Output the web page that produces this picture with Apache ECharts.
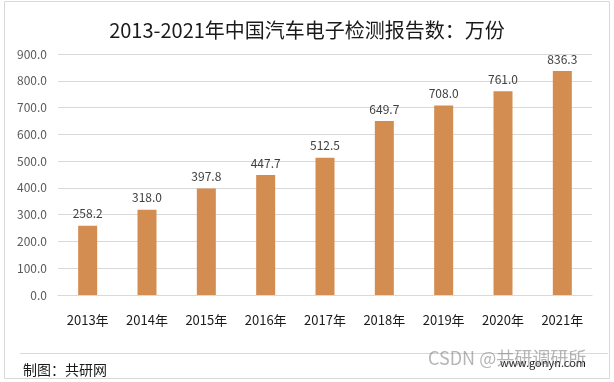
<!DOCTYPE html>
<html>
<head>
<meta charset="utf-8">
<script src="https://cdn.jsdelivr.net/npm/echarts@6/dist/echarts.min.js"></script>
<style>html,body{margin:0;padding:0;background:#fff}#c{width:614px;height:382px}</style>
</head>
<body>
<div id="c"></div>
<script>
var titleText = '2013-2021年中国汽车电子检测报告数：万份';
var categories = ['2013年','2014年','2015年','2016年','2017年','2018年','2019年','2020年','2021年'];
var values = [258.2, 318.0, 397.8, 447.7, 512.5, 649.7, 708.0, 761.0, 836.3];
var yTicks = {min: 0, max: 900, interval: 100};
var sourceText = '制图：共研网';
var watermarkText = 'CSDN @共研调研所';
var siteText = 'www.gonyn.com';

var FONT = '"Noto Sans CJK SC", "Noto Sans", sans-serif';
var chart = echarts.init(document.getElementById('c'), null, {renderer: 'canvas'});
chart.setOption({
  animation: false,
  backgroundColor: '#ffffff',
  title: {
    text: titleText,
    left: 'center',
    top: 15,
    textStyle: {fontFamily: FONT, fontSize: 20, fontWeight: 'normal', color: '#1a1a1a'}
  },
  grid: {left: 58, right: 22, top: 54, bottom: 87},
  xAxis: {
    type: 'category',
    data: categories,
    axisLine: {show: true, lineStyle: {color: '#D9D9D9', width: 1}},
    axisTick: {show: false},
    axisLabel: {color: '#1a1a1a', fontSize: 13, fontFamily: FONT, margin: 19}
  },
  yAxis: {
    type: 'value',
    min: yTicks.min, max: yTicks.max, interval: yTicks.interval,
    axisLine: {show: false},
    axisTick: {show: false},
    splitLine: {lineStyle: {color: '#D9D9D9', width: 1}},
    axisLabel: {
      color: '#595959', fontSize: 12, fontFamily: FONT, margin: 11,
      formatter: function (v) { return v.toFixed(1); }
    }
  },
  series: [{
    type: 'bar',
    data: values,
    barWidth: 19,
    itemStyle: {color: '#D38D50'},
    label: {
      show: true, position: 'top', distance: 6,
      color: '#404040', fontSize: 12, fontFamily: FONT,
      formatter: function (p) { return p.value.toFixed(1); }
    }
  }],
  graphic: [
    {type: 'rect', shape: {x: 4.5, y: 1.5, width: 605, height: 377}, style: {fill: 'none', stroke: '#D9D9D9', lineWidth: 1}, silent: true},
    {type: 'line', shape: {x1: 20, y1: 353.5, x2: 608, y2: 353.5}, style: {stroke: '#D9D9D9', lineWidth: 1}, silent: true},
    {type: 'text', left: 23, top: 363, style: {text: sourceText, fill: '#1a1a1a', font: '14px ' + FONT}},
    {type: 'text', left: 500, top: 357, style: {text: siteText, fill: '#1a1a1a', font: '11px ' + FONT}},
    {type: 'text', left: 428, top: 349, style: {text: watermarkText, fill: 'rgba(120,120,120,0.55)', font: '18px ' + FONT}}
  ]
});
</script>
</body>
</html>
